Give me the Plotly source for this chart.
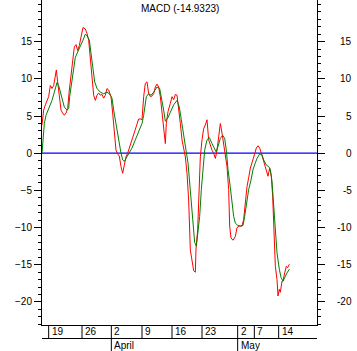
import plotly.graph_objects as go

# Time axis in bar units
macd_t = [0.0, 1.0, 2.0, 3.0, 4.0, 5.0, 6.0, 7.0, 8.0, 8.6, 9.4, 10.4, 11.4, 12.4, 13.4, 14.4, 15.4, 16.4, 17.4, 18.4,
          19.4, 20.4, 21.4, 22.4, 23.4, 24.6, 26.0, 27.0, 28.0, 29.0, 30.0, 31.0, 32.0, 33.0, 34.0, 35.0, 36.0, 37.0,
          38.0, 39.0, 40.0, 41.4, 42.4, 43.4, 44.4, 45.4, 46.4, 47.4, 48.4, 49.4, 50.4, 51.4, 52.4, 54.0, 55.4, 56.6,
          58.0, 59.4, 60.0, 61.0, 62.0, 63.0, 64.0, 65.0, 66.0, 67.0, 68.0, 69.0, 70.0, 71.0, 72.0, 73.0, 74.0, 74.6,
          75.6, 77.0, 78.0, 79.0, 80.0, 81.0, 82.0, 83.0, 84.0, 85.0, 86.0, 87.0, 88.0, 89.0, 90.0, 91.0, 92.0, 92.4,
          93.4, 94.0, 95.0, 96.0, 97.0, 98.0, 99.0, 100.0, 101.0, 102.0, 103.0, 104.0, 105.0, 106.0, 107.0, 108.0,
          109.0, 110.0, 111.0, 112.0, 112.6, 113.4, 114.6, 116.0, 117.0, 118.4, 120.0, 121.0, 122.0, 123.0, 124.0,
          125.0, 126.0, 127.4, 128.6, 129.6, 130.6, 131.6, 132.6, 133.6, 134.6, 135.6, 136.6, 137.6, 138.4, 139.4,
          140.0, 141.0, 141.6, 142.4, 143.0, 144.0, 144.6, 145.6, 146.6, 147.4, 148.4]
macd_vals = [3.8, 5.8, 6.5, 7.1, 7.6, 9.1, 8.7, 9.1, 10.9, 11.2, 9.6, 7.6, 5.8, 5.4, 5.1, 5.4, 6.0, 8.5, 10.7, 12.9,
             14.3, 14.6, 13.8, 14.5, 15.8, 16.9, 16.7, 16.1, 15.2, 12.9, 10.0, 7.8, 7.1, 7.8, 8.1, 7.8, 7.9, 7.4,
             7.8, 8.7, 8.5, 7.6, 5.4, 2.2, 0.4, -0.1, -0.4, -1.8, -2.7, -1.6, -0.5, 0.0, 0.7, 1.8, 2.9, 3.8,
             4.6, 4.6, 4.5, 7.6, 9.4, 9.6, 8.0, 7.6, 7.7, 8.0, 8.9, 9.3, 8.9, 7.6, 5.4, 2.7, 1.3, 4.0,
             5.6, 6.7, 7.6, 7.2, 7.9, 7.8, 6.2, 4.0, 1.8, 0.4, -0.5, -2.7, -6.3, -13.0, -14.7, -15.8, -16.0, -12.9,
             -10.3, -5.4, -0.5, 1.8, 3.3, 3.8, 4.5, 1.8, 0.9, 0.4, 0.0, -0.7, 0.4, 2.2, 4.0, 2.7,
             1.3, 0.0, -1.8, -4.9, -9.8, -11.4, -11.7, -11.2, -10.0, -9.8, -9.8, -8.9, -6.3, -4.5, -3.3,
             -2.0, -1.3, 0.0, 0.7, 1.0, 0.7, 0.0, -0.7, -1.6, -2.2, -3.1, -2.0, -3.1, -5.8, -11.6,
             -15.2, -17.0, -19.2, -18.3, -18.7, -17.2, -17.2, -16.1, -15.2, -15.4, -14.9323]

signal_t = [0.0, 0.6, 1.4, 2.4, 4.0, 6.0, 7.4, 9.0, 10.0, 11.0, 12.0, 13.4, 15.0, 16.0, 16.6, 18.0, 19.0, 20.0,
            21.4, 23.0, 24.6, 26.0, 27.0, 28.4, 29.4, 30.4, 31.6, 33.0, 35.0, 37.0, 39.0, 40.4, 42.0, 43.0, 44.0,
            45.0, 46.4, 47.4, 48.4, 49.4, 50.4, 52.0, 54.0, 56.0, 58.0, 60.0, 61.0, 62.6, 64.0, 65.4, 67.0, 69.0,
            70.6, 71.6, 73.0, 74.0, 75.6, 77.0, 79.0, 81.0, 82.4, 83.6, 85.0, 86.4, 87.6, 88.6, 89.6, 90.6, 91.6,
            92.6, 93.6, 94.6, 95.6, 96.6, 97.6, 99.0, 100.4, 102.0, 103.4, 104.4, 105.6, 107.0, 108.4, 109.6, 110.6,
            111.6, 113.0, 114.0, 115.0, 116.0, 117.4, 119.0, 120.6, 121.6, 122.6, 124.0, 125.4, 126.6, 128.0, 129.0,
            130.6, 132.0, 133.0, 134.6, 136.0, 137.0, 138.0, 139.0, 140.0, 141.0, 142.4, 143.4, 144.6, 145.6, 147.0,
            148.4]
signal_vals = [0.0, 1.8, 4.0, 5.1, 6.0, 7.1, 8.2, 9.5, 9.1, 8.2, 7.1, 6.2, 5.8, 6.0, 7.6, 9.6, 11.2, 12.9,
               13.6, 14.3, 15.2, 16.0, 15.8, 15.2, 13.4, 11.2, 9.6, 8.7, 8.2, 8.0, 8.2, 8.0, 7.4, 5.8, 4.5,
               2.7, 1.1, 0.0, -0.9, -1.1, -0.7, 0.0, 0.7, 1.8, 2.9, 4.0, 5.1, 7.6, 8.0, 7.8, 8.2, 8.9,
               8.7, 7.6, 5.8, 4.3, 4.8, 5.5, 6.5, 7.1, 6.2, 4.5, 2.7, 0.4, -1.3, -4.0, -6.7, -9.8, -12.0,
               -12.5, -10.7, -8.5, -4.9, -1.8, 0.4, 1.8, 2.1, 1.3, 0.7, 0.2, 0.9, 2.0, 2.4, 2.0, 0.4,
               -2.2, -4.6, -6.9, -8.5, -9.4, -9.7, -9.8, -9.7, -8.5, -6.7, -4.9, -3.6, -2.2, -1.3, -0.7,
               -0.1, -0.2, -0.9, -1.6, -1.8, -2.2, -3.8, -6.7, -10.3, -13.4, -15.6, -16.7, -17.2, -16.7, -16.1,
               -15.6]

week_pos = [4.0, 24.0, 41.6, 60.0, 78.0, 96.0, 117.4, 127.4, 142.0]
week_labels = ["19", "26", "2", "9", "16", "23", "2", "7", "14"]
month_pos = [41.6, 117.4]
month_labels = ["April", "May"]
y_ticks = [-20, -15, -10, -5, 0, 5, 10, 15]

FONT = "Liberation Sans, Arial, sans-serif"
W, H = 357, 351
ML, MR, MT, MB = 42, 40, 0, 26
PH = H - MT - MB

fig = go.Figure()
fig.add_trace(go.Scatter(x=macd_t, y=macd_vals, mode="lines",
                         line=dict(color="#FF0000", width=1), showlegend=False, hoverinfo="skip"))
fig.add_trace(go.Scatter(x=signal_t, y=signal_vals, mode="lines",
                         line=dict(color="#008000", width=1), showlegend=False, hoverinfo="skip"))
fig.add_trace(go.Scatter(x=[None], y=[None], yaxis="y2", showlegend=False, hoverinfo="skip"))

yr = [-23.1, 20.6]
axis_common = dict(range=yr, showgrid=False, showline=True, linecolor="black", linewidth=1,
                   ticks="outside", ticklen=7, tickcolor="black", tickwidth=1,
                   tickvals=y_ticks, zeroline=False,
                   minor=dict(dtick=1, ticks="outside", ticklen=3, tickcolor="black", tickwidth=1, showgrid=False))
fig.update_layout(
    width=W, height=H,
    margin=dict(l=ML, r=MR, t=MT, b=MB, pad=0),
    paper_bgcolor="white", plot_bgcolor="white",
    font=dict(family=FONT, size=10, color="black"),
    xaxis=dict(range=[0, 165], showgrid=False, zeroline=False, showline=True, linecolor="black",
               linewidth=1, showticklabels=False, ticks=""),
    yaxis=dict(**axis_common, tickfont=dict(family=FONT, size=10, color="black")),
    yaxis2=dict(**axis_common, overlaying="y", side="right", showticklabels=False),
)

ann = []
ann.append(dict(text=f"MACD ({macd_vals[-1]})", x=0.5, xref="paper", y=1, yref="paper",
                xanchor="center", yanchor="top", yshift=-1, showarrow=False,
                font=dict(family=FONT, size=10, color="black")))
for v in y_ticks:
    ann.append(dict(text=str(v), x=1, xref="paper", y=v, yref="y", xanchor="right", yanchor="middle",
                    xshift=37, showarrow=False, font=dict(family=FONT, size=10, color="black")))

shapes = []
# zero line in blue
shapes.append(dict(type="line", xref="paper", yref="y", x0=0, x1=1, y0=0, y1=0, layer="below",
                   line=dict(color="#0000FF", width=1.3)))
week_bottom = -13.5 / PH
month_bottom = -MB / PH
for p, lab in zip(week_pos, week_labels):
    shapes.append(dict(type="line", xref="x", yref="paper", x0=p, x1=p, y0=0, y1=week_bottom,
                       line=dict(color="black", width=1)))
    ann.append(dict(text=lab, x=p, xref="x", y=-6.8 / PH, yref="paper", xanchor="left", yanchor="middle",
                    xshift=1, showarrow=False, font=dict(family=FONT, size=10, color="black")))
for p, lab in zip(month_pos, month_labels):
    shapes.append(dict(type="line", xref="x", yref="paper", x0=p, x1=p, y0=week_bottom, y1=month_bottom,
                       line=dict(color="black", width=1)))
    ann.append(dict(text=lab, x=p, xref="x", y=-20 / PH, yref="paper", xanchor="left", yanchor="middle",
                    xshift=1, showarrow=False, font=dict(family=FONT, size=10, color="black")))
shapes.append(dict(type="line", xref="paper", yref="paper", x0=0, x1=1, y0=week_bottom, y1=week_bottom,
                   line=dict(color="black", width=1)))

fig.update_layout(annotations=ann, shapes=shapes)
fig.write_html("out.html")
